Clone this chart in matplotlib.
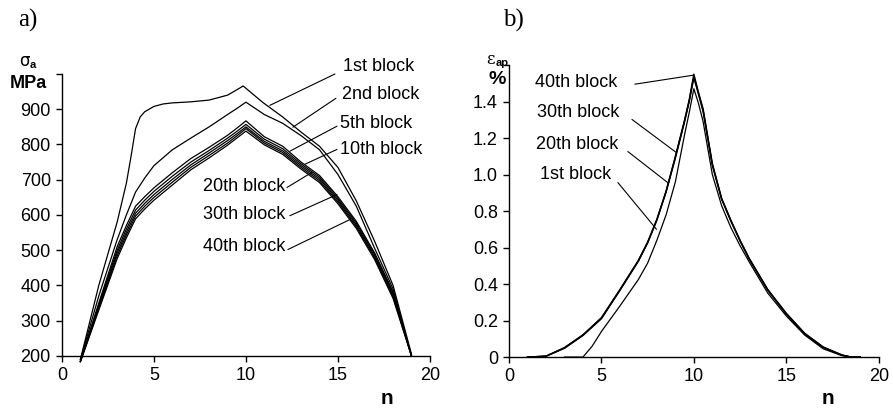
import matplotlib
matplotlib.use('Agg')
import matplotlib.pyplot as plt

plt.rcParams['font.family'] = ['Liberation Sans', 'DejaVu Sans']

# a) stress amplitude vs n
n_sig1 = [1, 2, 2.5, 3, 3.5, 3.75, 4, 4.25, 4.5, 5, 5.5, 6, 7, 8, 9, 9.5, 9.85, 10.9, 12, 13, 14, 15, 16, 17, 18, 19]
sig_1st = [190, 400, 490, 580, 690, 765, 845, 878, 893, 908, 915, 918, 921, 926, 940, 955, 966, 920, 878, 835, 795, 735, 640, 525, 400, 205]

n_sig = [1, 2, 3, 3.5, 4, 4.5, 5, 6, 7, 8, 9, 9.5, 10, 11, 12, 13, 14, 15, 16, 17, 18, 19]
sig_2nd = [190, 370, 530, 600, 665, 705, 740, 785, 818, 850, 885, 902, 920, 885, 860, 825, 785, 715, 625, 505, 390, 200]
sig_5th = [186, 350, 510, 570, 625, 652, 677, 720, 760, 792, 826, 846, 867, 822, 795, 750, 712, 652, 582, 492, 382, 200]
sig_10th = [185, 345, 500, 560, 614, 642, 667, 710, 750, 783, 818, 837, 857, 815, 788, 745, 707, 647, 577, 488, 378, 200]
sig_20th = [185, 340, 492, 551, 605, 633, 658, 701, 742, 776, 811, 830, 850, 809, 782, 740, 702, 642, 572, 483, 373, 200]
sig_30th = [184, 335, 484, 543, 597, 625, 650, 693, 735, 769, 804, 824, 845, 804, 777, 735, 697, 637, 567, 478, 368, 200]
sig_40th = [183, 330, 476, 535, 589, 617, 642, 685, 728, 762, 798, 818, 838, 799, 772, 730, 692, 632, 562, 473, 363, 200]
sig_blocks = ['1st block', '2nd block', '5th block', '10th block',
              '20th block', '30th block', '40th block']
sig_rest = [sig_2nd, sig_5th, sig_10th, sig_20th, sig_30th, sig_40th]

# b) plastic strain amplitude vs n
n_eps1 = [3, 4, 4.5, 5, 6, 7, 7.5, 8, 8.5, 9, 9.5, 9.75, 10, 10.25, 10.5, 11, 11.5, 12, 12.5, 13, 14, 15, 16, 17, 18, 18.5, 19]
eps_1st = [0, 0, 0.06, 0.14, 0.28, 0.425, 0.515, 0.64, 0.78, 0.96, 1.22, 1.34, 1.47, 1.39, 1.29, 1.00, 0.83, 0.71, 0.61, 0.52, 0.35, 0.225, 0.12, 0.045, 0.008, 0, 0]

n_eps = [1, 2, 3, 4, 5, 6, 7, 7.5, 8, 8.5, 9, 9.5, 9.75, 10, 10.25, 10.5, 11, 11.5, 12, 12.5, 13, 14, 15, 16, 17, 18, 18.5, 19]
eps_20th = [0, 0.004, 0.048, 0.118, 0.21, 0.365, 0.525, 0.625, 0.75, 0.905, 1.09, 1.29, 1.40, 1.53, 1.44, 1.345, 1.05, 0.865, 0.745, 0.635, 0.535, 0.365, 0.235, 0.125, 0.052, 0.01, 0, 0]
eps_30th = [0, 0.005, 0.05, 0.12, 0.213, 0.368, 0.528, 0.628, 0.753, 0.908, 1.095, 1.295, 1.405, 1.54, 1.445, 1.352, 1.055, 0.868, 0.748, 0.638, 0.538, 0.368, 0.238, 0.128, 0.054, 0.011, 0, 0]
eps_40th = [0, 0.005, 0.052, 0.122, 0.216, 0.37, 0.53, 0.63, 0.755, 0.91, 1.10, 1.30, 1.41, 1.55, 1.45, 1.36, 1.06, 0.87, 0.75, 0.64, 0.54, 0.37, 0.24, 0.13, 0.055, 0.012, 0, 0]
eps_blocks = ['40th block', '30th block', '20th block', '1st block']

fig = plt.figure(figsize=(8.93, 4.09), dpi=100)
ax1 = fig.add_axes([0.0694, 0.1296, 0.412, 0.6895])
ax2 = fig.add_axes([0.570, 0.127, 0.414, 0.714])

ax1.plot(n_sig1, sig_1st, color='black', lw=0.9, clip_on=False)
for ys in sig_rest:
    ax1.plot(n_sig, ys, color='black', lw=0.9, clip_on=False)

ax2.plot(n_eps1, eps_1st, color='black', lw=0.9, clip_on=False)
for ys in [eps_20th, eps_30th, eps_40th]:
    ax2.plot(n_eps, ys, color='black', lw=1.0, clip_on=False)

for ax in (ax1, ax2):
    ax.spines['top'].set_visible(False)
    ax.spines['right'].set_visible(False)
    for s in ('left', 'bottom'):
        ax.spines[s].set_linewidth(1.0)
    ax.tick_params(direction='out', length=4, width=1.0, labelsize=13, pad=4)
    ax.set_xlim(0, 20)
    ax.set_xticks([0, 5, 10, 15, 20])

ax1.set_ylim(200, 1000)
ax1.set_yticks(range(200, 1001, 100))
ax1.set_yticklabels([str(v) for v in range(200, 1000, 100)] + [''])

ax2.set_ylim(0, 1.6)
ax2.set_yticks([0, 0.2, 0.4, 0.6, 0.8, 1.0, 1.2, 1.4, 1.6])
ax2.set_yticklabels(['0', '0.2', '0.4', '0.6', '0.8', '1.0', '1.2', '1.4', ''])

# labels of the left panel: (text x, text y, ha, line start, line end)
sig_ann = [
    (15.27, 1020, 'left', (14.84, 1000), (11.30, 911)),
    (15.22, 943, 'left', (14.89, 931), (12.55, 849)),
    (15.10, 860, 'left', (14.95, 852), (12.39, 781)),
    (15.10, 786, 'left', (14.95, 786), (13.21, 744)),
    (12.12, 681, 'right', (12.23, 678), (13.59, 721)),
    (12.12, 601, 'right', (12.39, 598), (14.95, 658)),
    (12.12, 510, 'right', (12.28, 502), (15.65, 587)),
]
for name, (tx, ty, ha, p0, p1) in zip(sig_blocks, sig_ann):
    ax1.text(tx, ty, name, ha=ha, va='center', fontsize=13, clip_on=False)
    ax1.annotate('', xy=p1, xytext=p0, annotation_clip=False,
                 arrowprops=dict(arrowstyle='-', lw=0.8, color='black',
                                 shrinkA=0, shrinkB=0))

eps_ann = [
    (1.41, 1.505, (6.81, 1.495), (9.95, 1.544)),
    (1.51, 1.34, (6.65, 1.302), (9.06, 1.12)),
    (1.46, 1.165, (6.43, 1.126), (8.61, 0.954)),
    (1.68, 1.00, (5.89, 0.956), (7.98, 0.70)),
]
for name, (tx, ty, p0, p1) in zip(eps_blocks, eps_ann):
    ax2.text(tx, ty, name, ha='left', va='center', fontsize=13)
    ax2.annotate('', xy=p1, xytext=p0, annotation_clip=False,
                 arrowprops=dict(arrowstyle='-', lw=0.8, color='black',
                                 shrinkA=0, shrinkB=0))

# axis captions
fig.text(24 / 893, 1 - 61 / 409, 'σ', ha='center', va='center', fontsize=12, family='DejaVu Sans')
fig.text(33 / 893, 1 - 65 / 409, 'a', ha='center', va='center', fontsize=8, fontweight='bold')
fig.text(28 / 893, 1 - 84 / 409, 'MPa', ha='center', va='center', fontsize=13, fontweight='bold')
fig.text(387 / 893, 1 - 398 / 409, 'n', ha='center', va='center', fontsize=15, fontweight='bold')
fig.text(491 / 893, 1 - 60 / 409, 'ε', ha='center', va='center', fontsize=12, family='DejaVu Serif')
fig.text(502 / 893, 1 - 63 / 409, 'ap', ha='center', va='center', fontsize=8, fontweight='bold')
fig.text(497 / 893, 1 - 80 / 409, '%', ha='center', va='center', fontsize=14, fontweight='bold')
fig.text(828 / 893, 1 - 398 / 409, 'n', ha='center', va='center', fontsize=15, fontweight='bold')

fig.text(28 / 893, 1 - 20 / 409, 'a)', ha='center', va='center', fontsize=18, family='Liberation Serif')
fig.text(513 / 893, 1 - 20 / 409, 'b)', ha='center', va='center', fontsize=18, family='Liberation Serif')

fig.savefig('out.png', dpi=100)
